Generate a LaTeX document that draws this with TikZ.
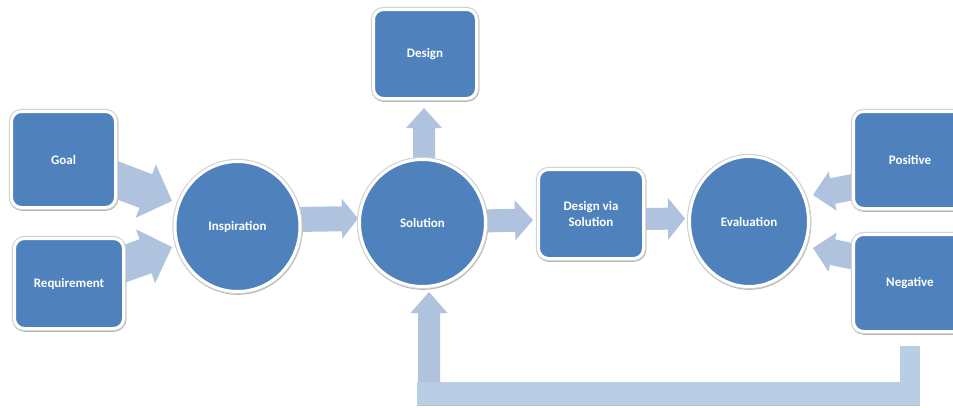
\documentclass[tikz,border=0pt]{standalone}
\usepackage{fontspec}
\setmainfont{Carlito}
\usetikzlibrary{calc,shapes.geometric,shadows,backgrounds}
\definecolor{boxblue}{HTML}{4F81BD}
\definecolor{arrowc}{HTML}{AFC2DE}
\definecolor{barc}{HTML}{B9CDE5}
% block arrow: #2 start coordinate, #3 tip coordinate, #4 half shaft, #5 half head, #6 head length
\newcommand\blkarrow[6][arrowc]{%
  \path ($(#3)!#6!(#2)$) coordinate (hb);
  \fill[#1] ($(#2)!#4!90:(#3)$) -- ($(hb)!#4!90:(#3)$) -- ($(hb)!#5!90:(#3)$) -- (#3)
     -- ($(hb)!#5!-90:(#3)$) -- ($(hb)!#4!-90:(#3)$) -- ($(#2)!#4!-90:(#3)$) -- cycle;}
\begin{document}
\begin{tikzpicture}[x=1pt,y=-1pt,
  lbl/.style={text=white, font=\bfseries\fontsize{13}{16}\selectfont, align=center},
  rim/.style={preaction={draw=black!30, line width=5pt, transform canvas={xshift=0.4pt,yshift=-0.8pt}},
    preaction={draw=black!18, line width=5.2pt}},
  box/.style={lbl, rectangle, rounded corners=10pt, fill=boxblue, draw=white, line width=3pt, rim},
  oval/.style={lbl, ellipse, inner sep=0pt, fill=boxblue, draw=white, line width=3pt, rim}]
\useasboundingbox (0,0) rectangle (953,407);
\clip (0,0) rectangle (953,407);

\node[box, minimum width=104pt, minimum height=96pt] (goal) at (63.5,159.5) {Goal};
\node[box, minimum width=109pt, minimum height=90pt] (req) at (69,283.5) {Requirement};
\node[oval, minimum width=125pt, minimum height=130pt] (insp) at (237.5,226.5) {Inspiration};
\node[oval, minimum width=126pt, minimum height=127pt] (sol) at (422.5,223) {Solution};
\node[box, minimum width=103pt, minimum height=89pt] (design) at (425,54) {Design};
\node[box, minimum width=105pt, minimum height=89pt] (dvs) at (591,214) {Design via\\Solution};
\node[oval, minimum width=119pt, minimum height=130pt] (eval) at (749,221.5) {Evaluation};
\node[box, minimum width=113pt, minimum height=97pt] (pos) at (910,160) {Positive};
\node[box, minimum width=113pt, minimum height=97pt] (neg) at (910,283) {Negative};

\coordinate (a1s) at ($(goal.center)+(46.5,18)$);
\coordinate (a1e) at ($(insp.center)+(-65.5,-25.5)$);
\coordinate (a2s) at ($(req.center)+(49,-17.5)$);
\coordinate (a2e) at ($(insp.center)+(-65.5,20.5)$);
\coordinate (a3s) at ($(insp.center)+(57.5,-7)$);
\coordinate (a3e) at ($(sol.center)+(-64.5,-4.5)$);
\coordinate (a4s) at ($(sol.center)+(57.5,-2)$);
\coordinate (a4e) at ($(dvs.center)+(-58,6)$);
\coordinate (a5s) at ($(dvs.center)+(49,5)$);
\coordinate (a5e) at ($(eval.center)+(-64,-3)$);
\coordinate (a6s) at ($(sol.center)+(1.5,-58)$);
\coordinate (a6e) at ($(design.center)+(-1,54)$);
\coordinate (a7s) at ($(pos.center)+(-52,26)$);
\coordinate (a7e) at ($(eval.center)+(64,-26.5)$);
\coordinate (a8s) at ($(neg.center)+(-52,-25.5)$);
\coordinate (a8e) at ($(eval.center)+(64,26.5)$);
\coordinate (fbs1) at ($(neg.south)+(-10,13)$);
\coordinate (fbs2) at ($(neg.south)+(10,49)$);
\coordinate (fbR) at ($(neg.south)+(10,72)$);
\coordinate (fbL) at ($(sol.center)+(-5.5,159)$);
\coordinate (a9s) at ($(sol.center)+(6.5,159)$);
\coordinate (a9e) at ($(sol.center)+(6.5,69)$);

\begin{scope}[on background layer]
  \fill[white] (0,0) rectangle (953,407);
  \blkarrow{a1s}{a1e}{18pt}{28.5pt}{28pt}
  \blkarrow{a2s}{a2e}{18pt}{28.5pt}{28pt}
  \blkarrow{a3s}{a3e}{12.5pt}{20pt}{16pt}
  \blkarrow{a4s}{a4e}{11.5pt}{20pt}{18pt}
  \blkarrow{a5s}{a5e}{11pt}{21pt}{17pt}
  \blkarrow{a6s}{a6e}{11pt}{18pt}{20pt}
  \blkarrow{a7s}{a7e}{13pt}{20pt}{20pt}
  \blkarrow{a8s}{a8e}{13pt}{20pt}{20pt}
  \fill[barc] (fbs1) rectangle (fbs2);
  \fill[black!25] ($(fbL)+(0,1)$) rectangle ($(fbR)+(0,1)$);
  \fill[barc] (fbL) rectangle (fbR);
  \blkarrow{a9s}{a9e}{11pt}{18.5pt}{21pt}
\end{scope}
\end{tikzpicture}
\end{document}
